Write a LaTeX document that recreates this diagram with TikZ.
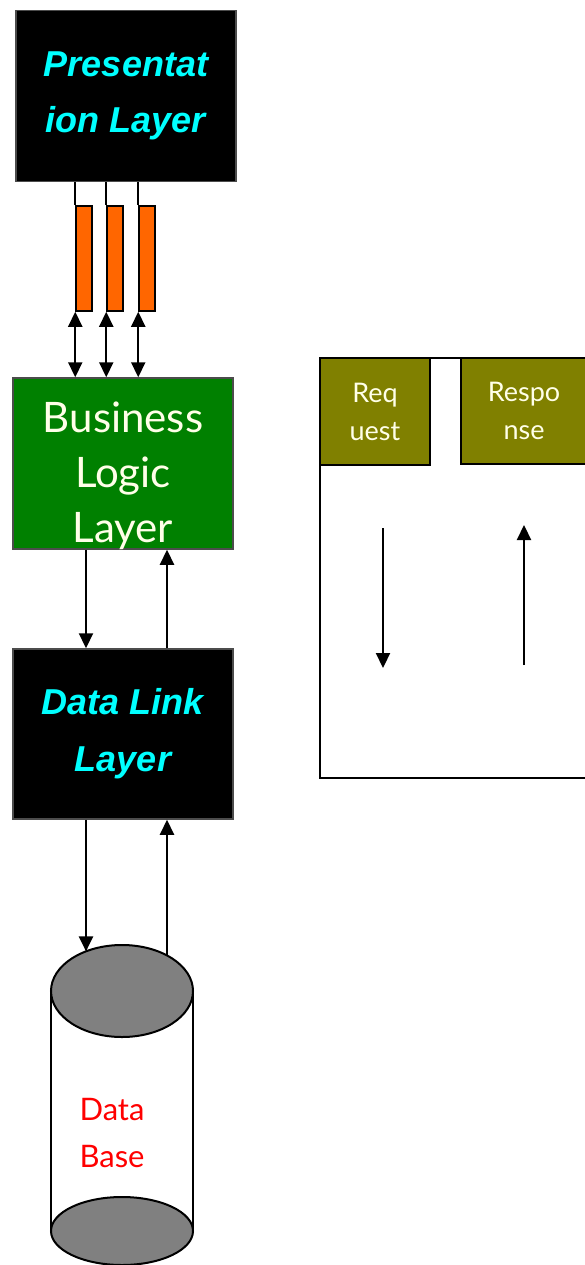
\documentclass[tikz,border=0pt]{standalone}
\usepackage{fontspec}
\usetikzlibrary{arrows.meta,shapes.geometric}
\newfontfamily\headfont{Liberation Sans}
\newfontfamily\handfont{Lato}
\definecolor{layercyan}{HTML}{00FFFF}
\definecolor{bizgreen}{HTML}{008000}
\definecolor{tabolive}{HTML}{808000}
\definecolor{pipeorange}{HTML}{FF6600}
\definecolor{cream}{HTML}{FFFFE8}
\definecolor{dbgray}{HTML}{808080}
\definecolor{dbred}{HTML}{FF0000}
\tikzset{
  layerbox/.style={draw=black!70, line width=1.5pt, minimum width=220pt, inner sep=0pt},
  darkbox/.style={layerbox, fill=black, text=layercyan, align=center,
    font=\headfont\bfseries\itshape\fontsize{36}{56}\selectfont},
  tabbox/.style={draw=black, line width=1.5pt, fill=tabolive, text=cream, align=center,
    inner sep=0pt, font=\handfont\fontsize{27}{38}\selectfont},
  pipe/.style={draw=black, line width=1.5pt, fill=pipeorange, minimum width=16pt,
    minimum height=105pt, inner sep=0pt},
  link/.style={line width=2.2pt},
  tip/.tip={Triangle[length=15pt,width=14pt]},
  arr/.style={link, -tip},
  dblarr/.style={link, tip-tip}
}
\begin{document}
\begin{tikzpicture}[x=1pt,y=-1pt]
\useasboundingbox (0,0) rectangle (585,1265);

% presentation layer
\node[darkbox, minimum height=171pt] (pres) at (126,96) {Presentat\\ion Layer};

% orange pipes hanging under the presentation layer
\node[pipe] (o1) at (84,258.5) {};
\node[pipe] (o2) at (115,258.5) {};
\node[pipe] (o3) at (147,258.5) {};
\foreach \p in {o1,o2,o3}
  \draw[link] (pres.south -| \p.north west) -- (\p.north west);

% business logic layer
\node[layerbox, fill=bizgreen, minimum height=171pt] (biz) at (123,463.5) {};
\begin{scope}
  \clip (biz.south west) rectangle (biz.north east);
  \node[text=cream, align=center, font=\handfont\fontsize{42}{55}\selectfont,
        anchor=base] (biztext) at (123,542) {Business\\Logic\\Layer};
\end{scope}

\foreach \p in {o1,o2,o3}
  \draw[dblarr] (\p.south west) -- (\p.south west |- biz.north);

% data link layer
\node[darkbox, minimum height=170pt, font=\headfont\bfseries\itshape\fontsize{36}{57}\selectfont]
  (dl) at (123,734) {Data Link\\Layer};

\coordinate (downx) at (86,0);
\coordinate (upx) at (167,0);
\draw[arr] (biz.south -| downx) -- (dl.north -| downx);
\draw[arr] (dl.north -| upx) -- (biz.south -| upx);

% database cylinder
\fill[white] (51,991) rectangle (193,1231);
\draw[link] (51,991) -- (51,1231);
\draw[link] (193,991) -- (193,1231);
\node[ellipse, draw, line width=2pt, fill=dbgray, minimum width=142pt,
      minimum height=68pt, inner sep=0pt] (dbbot) at (122,1231) {};
\node[ellipse, draw, line width=2pt, fill=dbgray, minimum width=142pt,
      minimum height=92pt, inner sep=0pt] (dbtop) at (122,991) {};
\node[text=dbred, align=left, font=\handfont\fontsize{31}{47}\selectfont, anchor=base west]
  (dbtext) at (76,1167) {Data\\Base};

\coordinate (dbin) at (86,951.4);
\coordinate (dbout) at (167,955.4);
\draw[arr] (dl.south -| downx) -- (dbin);
\draw[arr] (dbout) -- (dl.south -| upx);

% request / response panel
\draw[line width=1.5pt] (586,358) -- (320,358) -- (320,778) -- (586,778);
\node[tabbox, minimum width=110pt, minimum height=107pt] (req) at (375,411.5) {Req\\uest};
\node[tabbox, minimum width=126pt, minimum height=106pt] (resp) at (524,411) {Respo\\nse};

\coordinate (reqtop) at (383,528);
\coordinate (reqbot) at (383,668);
\coordinate (resbot) at (524,665);
\coordinate (restop) at (524,525);
\draw[arr] (reqtop) -- (reqbot);
\draw[arr] (resbot) -- (restop);
\end{tikzpicture}
\end{document}
